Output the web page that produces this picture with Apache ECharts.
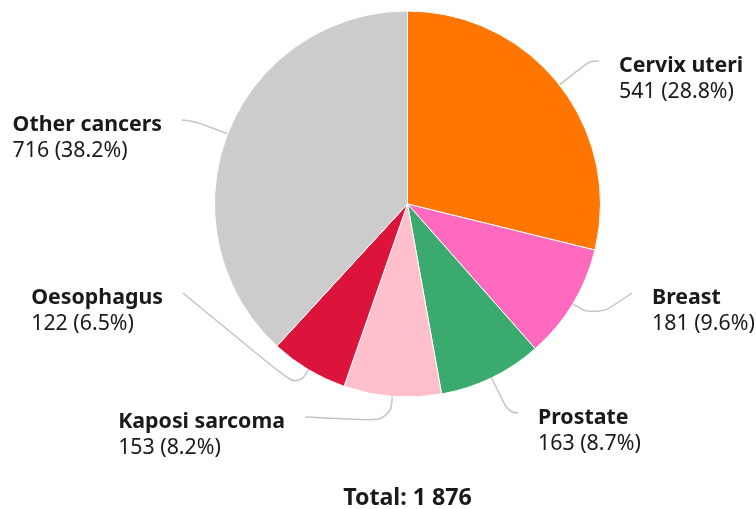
<!DOCTYPE html>
<html><head><meta charset="utf-8">
<script src="https://cdn.jsdelivr.net/npm/echarts@6/dist/echarts.min.js"></script>
<style>html,body{margin:0;padding:0;background:#fff}#chart{width:756px;height:509px}</style>
</head><body><div id="chart"></div>
<script>
const categories = ['Cervix uteri', 'Breast', 'Prostate', 'Kaposi sarcoma', 'Oesophagus', 'Other cancers'];
const values = [541, 181, 163, 153, 122, 716];
const colors = ['#FF7700', '#FF69BE', '#3AAA6E', '#FFC0CB', '#DC143C', '#CCCCCC'];

// label layout (connector end points, px) and connector break distance beyond the rim
const labelAnchors = [[599, 61], [632, 293], [518, 413], [305, 417], [183, 293], [182, 120]];
const connectorBreak = [40, 27, 38, 25, 21, 35];

const CX = 407.5, CY = 204, R = 193;
const total = values.reduce((a, b) => a + b, 0);
function fmtThousands(n) { return String(n).replace(/\B(?=(\d{3})+(?!\d))/g, ' '); }
const midAngles = [];
let acc = 0;
values.forEach(v => { midAngles.push((acc + v / 2) / total * 2 * Math.PI); acc += v; });

const FONT = 'Noto Sans';
const LABEL_SIZE = 21.33, LINE_H = 26.67;
const chart = echarts.init(document.getElementById('chart'), null, {renderer: 'canvas'});
chart.setOption({
  animation: false,
  backgroundColor: '#ffffff',
  graphic: [{
    type: 'text',
    x: CX, y: 498,
    style: {
      text: 'Total: ' + fmtThousands(total),
      align: 'center', verticalAlign: 'middle',
      fontFamily: FONT, fontWeight: 'bold', fontSize: 23.2, fill: '#1a1a1a'
    }
  }],
  series: [{
    type: 'pie',
    center: [CX, CY],
    radius: R,
    startAngle: 90,
    clockwise: true,
    avoidLabelOverlap: false,
    itemStyle: {borderColor: '#ffffff', borderWidth: 1},
    emphasis: {disabled: true},
    label: {
      show: true,
      position: 'outside',
      fontFamily: FONT,
      formatter: p => '{n|' + p.name + '}\n{v|' + p.value + ' (' + (p.value / total * 100).toFixed(1) + '%)}',
      rich: {
        n: {fontFamily: FONT, fontWeight: 'bold', fontSize: LABEL_SIZE, lineHeight: LINE_H, color: '#1a1a1a', align: 'left'},
        v: {fontFamily: FONT, fontWeight: 'normal', fontSize: LABEL_SIZE, lineHeight: LINE_H, color: '#1a1a1a', align: 'left'}
      }
    },
    labelLine: {show: true, smooth: 0.45, lineStyle: {color: '#c4c4c4', width: 1.5}},
    labelLayout: function (params) {
      const i = params.dataIndex;
      const a = midAngles[i];
      const s = Math.sin(a), c = -Math.cos(a);
      const p0 = [CX + R * s, CY + R * c];
      const rb = R + connectorBreak[i];
      const p1 = [CX + rb * s, CY + rb * c];
      const end = labelAnchors[i];
      const right = s > 0;
      return {
        x: end[0] + (right ? 20 : -20),
        y: end[1] + 4.5 - LINE_H / 2,
        align: right ? 'left' : 'right',
        verticalAlign: 'top',
        labelLinePoints: [p0, p1, end]
      };
    },
    data: categories.map((c, i) => ({name: c, value: values[i], itemStyle: {color: colors[i]}}))
  }]
});
</script>
</body></html>
